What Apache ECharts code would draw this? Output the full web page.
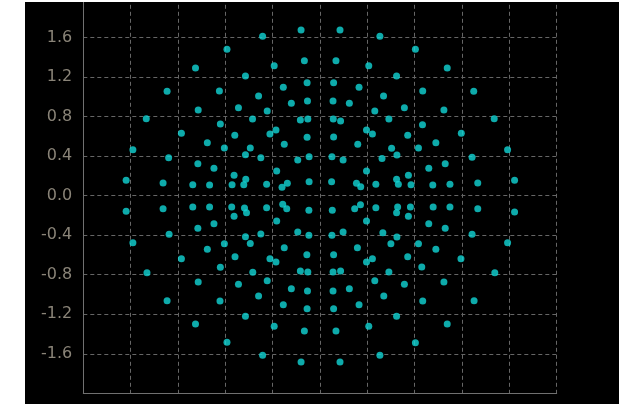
<!DOCTYPE html>
<html>
<head>
<meta charset="utf-8">
<script src="https://cdn.jsdelivr.net/npm/echarts@6/dist/echarts.min.js"></script>
<style>
  html, body { margin: 0; padding: 0; background: #ffffff; width: 631px; height: 404px; overflow: hidden; }
  #frame { position: absolute; left: 25px; top: 2px; width: 594px; height: 402px; background: #000000; overflow: hidden; }
  #chart { position: absolute; left: 0; top: -10px; width: 594px; height: 412px; }
</style>
</head>
<body>
<div id="frame"><div id="chart"></div></div>
<script>
// Received symbols, [in-phase, quadrature]
const upperSymbols = [
  [-0.786,1.479],[-1.052,1.290],[-0.630,1.209],[-1.292,1.055],[-0.850,1.058],[-0.689,0.889],[-1.029,0.866],
  [-1.468,0.778],[-0.570,0.775],[-0.842,0.724],[-1.171,0.630],[-0.720,0.610],[-0.952,0.535],[-0.808,0.481],
  [-0.589,0.481],[-1.581,0.464],[-1.279,0.383],[-0.630,0.414],[-1.032,0.323],[-0.896,0.276],[-0.726,0.205],
  [-0.627,0.165],[-1.638,0.155],[-1.326,0.127],[-1.075,0.110],[-0.933,0.107],[-0.743,0.110],[-0.644,0.110],
  [-0.160,1.674],[0.169,1.674],[-0.485,1.611],[0.506,1.611],[-0.132,1.364],[0.135,1.364],[-0.387,1.313],
  [0.412,1.313],[-0.109,1.142],[0.115,1.142],[-0.310,1.095],[0.330,1.095],[-0.519,1.007],[0.537,1.007],
  [-0.242,0.933],[-0.106,0.957],[0.110,0.957],[0.248,0.933],[-0.446,0.855],[0.463,0.855],[-0.166,0.764],
  [-0.103,0.775],[0.112,0.775],[0.174,0.754],[-0.372,0.663],[-0.423,0.623],[0.393,0.663],[0.443,0.623],
  [-0.109,0.589],[0.115,0.593],[-0.302,0.519],[0.319,0.519],[-0.500,0.383],[-0.188,0.360],[-0.092,0.393],
  [0.101,0.393],[0.195,0.360],[0.524,0.375],[-0.366,0.249],[0.393,0.249],[-0.451,0.114],[-0.321,0.084],
  [-0.276,0.124],[-0.092,0.141],[0.098,0.141],[0.308,0.124],[0.344,0.090],[0.472,0.114],
  [0.806,1.479],[1.075,1.290],[0.647,1.209],[0.868,1.058],[1.299,1.055],[0.713,0.889],[1.047,0.866],
  [0.582,0.775],[1.472,0.778],[0.866,0.717],[1.194,0.630],[0.741,0.610],[0.979,0.535],[0.605,0.478],
  [0.832,0.481],[1.585,0.464],[0.650,0.411],[1.285,0.387],[0.919,0.276],[1.058,0.323],[0.747,0.205],
  [0.647,0.165],[0.662,0.114],[0.769,0.110],[0.953,0.107],[1.098,0.114],[1.333,0.127],[1.644,0.155]
];
const lowerSymbols = [
  [-1.638,-0.159],[-1.326,-0.132],[-1.075,-0.115],[-0.933,-0.115],[-0.746,-0.115],[-0.638,-0.125],[-0.621,-0.173],
  [-0.726,-0.209],[-0.896,-0.284],[-1.032,-0.331],[-1.275,-0.391],[-1.581,-0.476],[-0.630,-0.416],[-0.808,-0.486],
  [-0.589,-0.484],[-0.952,-0.543],[-0.718,-0.618],[-1.171,-0.638],[-0.842,-0.725],[-1.462,-0.780],[-0.568,-0.776],
  [-1.029,-0.874],[-0.689,-0.897],[-1.292,-1.063],[-0.845,-1.066],[-0.630,-1.220],[-1.052,-1.298],[-0.786,-1.483],
  [-0.451,-0.122],[-0.315,-0.088],[-0.281,-0.132],[-0.094,-0.149],[0.104,-0.149],[0.293,-0.132],[0.342,-0.092],
  [0.472,-0.122],[-0.366,-0.257],[0.393,-0.257],[-0.500,-0.388],[-0.188,-0.368],[-0.094,-0.401],[0.101,-0.401],
  [0.195,-0.368],[0.531,-0.375],[-0.302,-0.527],[0.316,-0.527],[-0.111,-0.598],[0.115,-0.598],[-0.423,-0.638],
  [-0.372,-0.671],[0.393,-0.671],[0.443,-0.638],[-0.166,-0.762],[-0.103,-0.773],[0.110,-0.773],[0.174,-0.762],
  [-0.446,-0.860],[0.463,-0.860],[-0.519,-1.015],[-0.242,-0.941],[-0.106,-0.965],[0.110,-0.965],[0.248,-0.941],
  [0.539,-1.015],[-0.310,-1.103],[-0.109,-1.144],[0.115,-1.144],[0.330,-1.103],[-0.387,-1.322],[-0.132,-1.369],
  [0.135,-1.369],[0.412,-1.322],[-0.485,-1.615],[0.506,-1.615],[-0.160,-1.683],[0.169,-1.683],
  [0.656,-0.115],[0.647,-0.173],[0.764,-0.115],[0.956,-0.115],[1.098,-0.115],[1.333,-0.132],[1.644,-0.166],
  [0.747,-0.209],[0.919,-0.284],[1.058,-0.331],[0.650,-0.419],[0.599,-0.486],[0.832,-0.486],[1.285,-0.391],
  [1.585,-0.476],[0.979,-0.543],[0.741,-0.618],[1.191,-0.638],[0.860,-0.722],[0.582,-0.773],[1.477,-0.780],
  [0.713,-0.897],[1.047,-0.874],[0.868,-1.066],[1.302,-1.063],[0.647,-1.220],[1.075,-1.298],[0.806,-1.487]
];

const axisRange = [-2, 2];
const tickStep = 0.4;

const gridLine = { show: true, lineStyle: { color: '#666666', type: [4, 3], width: 1 } };
const axisEdge = { show: true, onZero: false, lineStyle: { color: '#707070', width: 1 } };

const chart = echarts.init(document.getElementById('chart'), null, { renderer: 'canvas' });
chart.setOption({
  backgroundColor: '#000000',
  animation: false,
  grid: { left: 58.3, right: 62.3, top: 5.8, bottom: 10.6, containLabel: false },
  xAxis: {
    type: 'value',
    min: axisRange[0], max: axisRange[1], interval: tickStep,
    axisLine: axisEdge,
    axisTick: { show: false },
    axisLabel: { show: false },
    splitLine: gridLine
  },
  yAxis: {
    type: 'value',
    min: axisRange[0], max: axisRange[1], interval: tickStep,
    axisLine: axisEdge,
    axisTick: { show: false },
    axisLabel: {
      show: true,
      showMinLabel: false,
      showMaxLabel: false,
      color: '#8a8478',
      fontFamily: 'DejaVu Sans',
      fontSize: 16,
      margin: 11,
      formatter: v => v.toFixed(1)
    },
    splitLine: gridLine
  },
  series: [{
    type: 'scatter',
    data: upperSymbols.concat(lowerSymbols),
    symbol: 'circle',
    symbolSize: 7,
    itemStyle: { color: '#12d6d6' }
  }]
});
</script>
</body>
</html>
